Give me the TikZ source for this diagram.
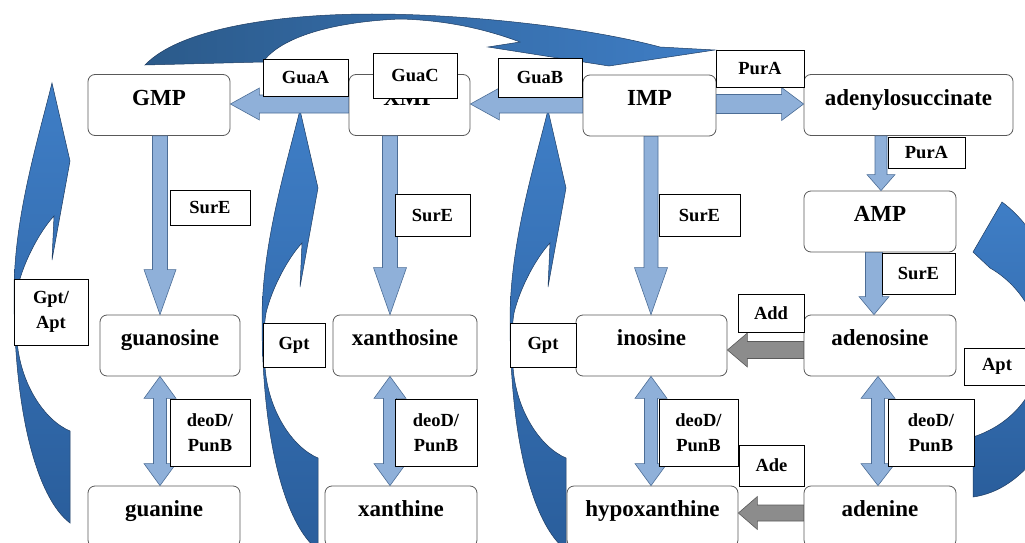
\documentclass[tikz,border=0pt]{standalone}
\usepackage{fontspec}
\setmainfont{Liberation Serif}
\usetikzlibrary{calc}

\definecolor{pale}{HTML}{8FB0D9}
\definecolor{paleline}{HTML}{4C6D96}
\definecolor{greyfill}{HTML}{8C8C8C}
\definecolor{greyline}{HTML}{5A5A5A}
\definecolor{deepA}{HTML}{3F7EC6}
\definecolor{deepB}{HTML}{2A5E9C}
\definecolor{deepL}{HTML}{2B5A8A}
\definecolor{rimline}{HTML}{1E3C62}

\tikzset{
  met/.style={draw=gray!70!black, fill=white, rounded corners=7pt, line width=0.8pt,
    inner sep=0pt, minimum height=61pt, text height=16pt, text depth=16pt,
    font=\bfseries\fontsize{23}{27}\selectfont},
  enz/.style={draw=black, fill=white, line width=0.6pt, inner sep=0pt, align=center,
    font=\bfseries\fontsize{18.5}{25}\selectfont},
  paleflow/.style={draw=paleline, fill=pale, line width=0.6pt},
  greyflow/.style={draw=greyline, fill=greyfill, line width=0.6pt},
  swoop/.style={draw=rimline, line width=0.5pt, top color=deepA, bottom color=deepB},
  fat/.style n args={3}{to path={
      ($(\tikztostart)!#1!90:(\tikztotarget)$)
      -- ($(\tikztotarget)!#3!(\tikztostart)!#1!90:(\tikztotarget)$)
      -- ($(\tikztotarget)!#3!(\tikztostart)!#2!90:(\tikztotarget)$)
      -- (\tikztotarget)
      -- ($(\tikztotarget)!#3!(\tikztostart)!#2!-90:(\tikztotarget)$)
      -- ($(\tikztotarget)!#3!(\tikztostart)!#1!-90:(\tikztotarget)$)
      -- ($(\tikztostart)!#1!-90:(\tikztotarget)$) -- cycle}},
  dfat/.style n args={3}{to path={
      (\tikztostart)
      -- ($(\tikztostart)!#3!(\tikztotarget)!#2!90:(\tikztotarget)$)
      -- ($(\tikztostart)!#3!(\tikztotarget)!#1!90:(\tikztotarget)$)
      -- ($(\tikztotarget)!#3!(\tikztostart)!#1!90:(\tikztotarget)$)
      -- ($(\tikztotarget)!#3!(\tikztostart)!#2!90:(\tikztotarget)$)
      -- (\tikztotarget)
      -- ($(\tikztotarget)!#3!(\tikztostart)!#2!-90:(\tikztotarget)$)
      -- ($(\tikztotarget)!#3!(\tikztostart)!#1!-90:(\tikztotarget)$)
      -- ($(\tikztostart)!#3!(\tikztotarget)!#1!-90:(\tikztotarget)$)
      -- ($(\tikztostart)!#3!(\tikztotarget)!#2!-90:(\tikztotarget)$) -- cycle}}
}

\begin{document}
\begin{tikzpicture}[x=1pt, y=-1pt]
  \useasboundingbox (0,0) rectangle (1025,543);
  \clip (0,0) rectangle (1025,543);

  % salvage arrows
  \draw[swoop, left color=deepL, right color=deepA]
    (145,65) .. controls (180,28) and (280,14) .. (372,14)
    .. controls (470,14) and (590,28) .. (660,47) -- (715,50) -- (609,66) -- (488,47)
    -- (520,42) .. controls (480,27) and (440,20) .. (400,19)
    .. controls (330,22) and (280,38) .. (263,62) -- cycle;
  \foreach \dx/\dy in {0/0,248/27,496/27}
    \draw[swoop, shift={(\dx,\dy)}]
      (70,523) -- (70,431) .. controls (44,420) and (20,383) .. (17,340)
      .. controls (15,318) and (16,298) .. (18,286)
      .. controls (24,261) and (40,231) .. (54,216) -- (52,260) -- (70,161) -- (52,83)
      .. controls (37,143) and (14,218) .. (14,293)
      .. controls (14,413) and (37,498) .. (70,523) -- cycle;
  \draw[swoop]
    (973,497) -- (973,437) .. controls (1010,425) and (1038,395) .. (1040,355)
    .. controls (1042,320) and (1020,285) .. (990,268) -- (973,252) -- (1002,202)
    .. controls (1040,230) and (1068,290) .. (1068,350)
    .. controls (1068,430) and (1025,490) .. (973,497) -- cycle;

  \node[met, minimum width=142pt] (gmp) at (159,105) {GMP};
  \node[met, minimum width=121pt] (xmp) at (409.5,105) {XMP};
  \node[met, minimum width=133pt] (imp) at (649.5,105.5) {IMP};
  \node[met, minimum width=209pt] (ads) at (908.5,105) {adenylosuccinate};
  \node[met, minimum width=152pt] (amp) at (880,221.5) {AMP};
  \node[met, minimum width=140pt] (guo) at (170,345.5) {guanosine};
  \node[met, minimum width=144pt] (xao) at (405,345.5) {xanthosine};
  \node[met, minimum width=151pt] (ino) at (651.5,345.5) {inosine};
  \node[met, minimum width=152pt] (ado) at (880,345.5) {adenosine};
  \node[met, minimum width=152pt] (gua) at (164,516.5) {guanine};
  \node[met, minimum width=152pt] (xan) at (401,516.5) {xanthine};
  \node[met, minimum width=171pt] (hyp) at (652.5,516.5) {hypoxanthine};
  \node[met, minimum width=152pt] (ade) at (880,516.5) {adenine};

  \coordinate (row1) at (0,104);
  \coordinate (row2) at (0,350);
  \coordinate (row3) at (0,513);
  \coordinate (col1) at (160,0);
  \coordinate (col2) at (390,0);
  \coordinate (col3) at (651,0);
  \coordinate (col4) at (878,0);
  \coordinate (col5) at (881,0);
  \coordinate (col6) at (874,0);

  \draw[paleflow, fat={9pt}{16pt}{29pt}] (xmp.west |- row1) to (gmp.east |- row1);
  \draw[paleflow, fat={9pt}{16pt}{29pt}] (imp.west |- row1) to (xmp.east |- row1);
  \draw[paleflow, fat={9.5pt}{16.5pt}{22pt}] (imp.east |- row1) to (ads.west |- row1);
  \draw[paleflow, fat={7.5pt}{16pt}{45pt}] (col1 |- gmp.south) to (col1 |- guo.north);
  \draw[paleflow, fat={7.5pt}{16.5pt}{47pt}] (col2 |- xmp.south) to (col2 |- xao.north);
  \draw[paleflow, fat={7pt}{16.5pt}{47pt}] (col3 |- imp.south) to (col3 |- ino.north);
  \draw[paleflow, fat={6pt}{14pt}{16pt}] (col5 |- ads.south) to (col5 |- amp.north);
  \draw[paleflow, fat={8.5pt}{15pt}{18pt}] (col6 |- amp.south) to (col6 |- ado.north);
  \draw[paleflow, dfat={6.5pt}{16pt}{22pt}] (col1 |- guo.south) to (col1 |- gua.north);
  \draw[paleflow, dfat={6.5pt}{16pt}{22pt}] (col2 |- xao.south) to (col2 |- xan.north);
  \draw[paleflow, dfat={6.5pt}{16pt}{22pt}] (col3 |- ino.south) to (col3 |- hyp.north);
  \draw[paleflow, dfat={6.5pt}{17pt}{22pt}] (col4 |- ado.south) to (col4 |- ade.north);
  \draw[greyflow, fat={8.5pt}{17pt}{20pt}] (ado.west |- row2) to (ino.east |- row2);
  \draw[greyflow, fat={8pt}{16.5pt}{19pt}] (ade.west |- row3) to (hyp.east |- row3);

  \node[enz, minimum width=85pt, minimum height=37pt] (guaA) at (305.5,77.5) {GuaA};
  \node[enz, minimum width=84pt, minimum height=45pt] (guaC) at (415,75.5) {GuaC};
  \node[enz, minimum width=84pt, minimum height=39pt] (guaB) at (540,77.5) {GuaB};
  \node[enz, minimum width=88pt, minimum height=37pt] (purA1) at (760,68.5) {PurA};
  \node[enz, minimum width=77pt, minimum height=31pt] (purA2) at (926.5,152.5) {PurA};
  \node[enz, minimum width=80pt, minimum height=35pt] (surE1) at (210,207.5) {SurE};
  \node[enz, minimum width=75pt, minimum height=42pt] (surE2) at (432.5,215) {SurE};
  \node[enz, minimum width=81pt, minimum height=42pt] (surE3) at (699.5,215) {SurE};
  \node[enz, minimum width=73pt, minimum height=41pt] (surE4) at (918.5,273.5) {SurE};
  \node[enz, minimum width=66pt, minimum height=38pt] (add) at (771,313) {Add};
  \node[enz, minimum width=74pt, minimum height=66pt] (gptapt) at (51,312) {Gpt/\\Apt};
  \node[enz, minimum width=62pt, minimum height=44pt] (gpt1) at (294,345) {Gpt};
  \node[enz, minimum width=66pt, minimum height=44pt] (gpt2) at (543,345) {Gpt};
  \node[enz, minimum width=66pt, minimum height=37pt] (apt) at (997,366.5) {Apt};
  \node[enz, minimum width=80pt, minimum height=67pt] (pnp1) at (210,432.5) {deoD/\\PunB};
  \node[enz, minimum width=82pt, minimum height=67pt] (pnp2) at (436,432.5) {deoD/\\PunB};
  \node[enz, minimum width=79pt, minimum height=67pt] (pnp3) at (698.5,432.5) {deoD/\\PunB};
  \node[enz, minimum width=86pt, minimum height=67pt] (pnp4) at (931,432.5) {deoD/\\PunB};
  \node[enz, minimum width=65pt, minimum height=41pt] (ade2) at (771.5,465.5) {Ade};
\end{tikzpicture}
\end{document}
